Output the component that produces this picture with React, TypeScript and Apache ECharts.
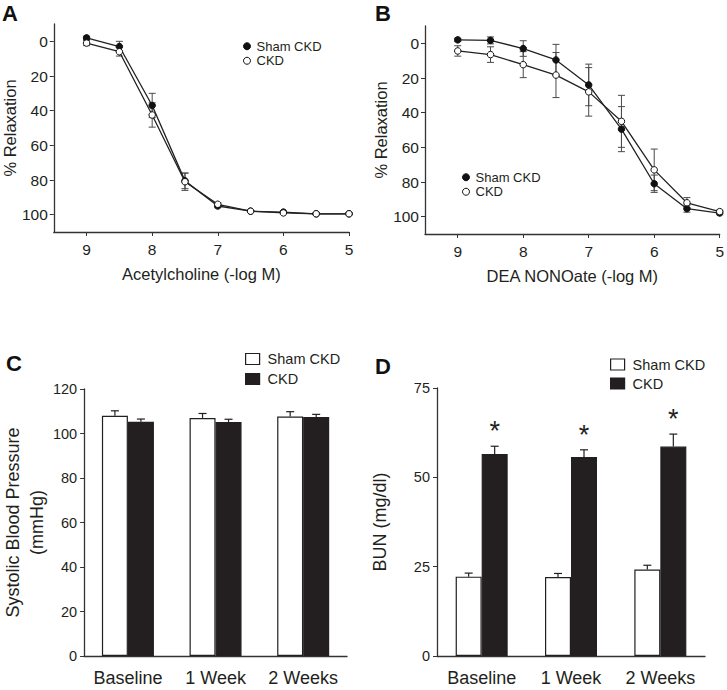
import React, { useEffect, useRef } from "react";
import * as echarts from "echarts";

// ---------- data ----------
const doseLevels = [9, 8.5, 8, 7.5, 7, 6.5, 6, 5.5, 5];
const doseTicks = [9, 8, 7, 6, 5];
const relaxTicks = [0, 20, 40, 60, 80, 100];

const achSham = [-2, 3, 37, 80.5, 95, 98, 98.5, 99.5, 99.5];
const achShamErr = [1, 3, 7, 4.5, 1, 0.5, 0.5, 0.5, 0.5];
const achCKD = [1, 6, 42.5, 81, 94, 98, 99, 99.5, 99.5];
const achCKDErr = [1.5, 2.5, 7, 5, 1, 0.5, 0.5, 0.5, 0.5];

const deaSham = [-2, -1.7, 3, 9.6, 24, 49.5, 81, 95.4, 97.9];
const deaShamErr = [1, 2, 4.5, 9, 12, 13, 5, 2, 1];
const deaCKD = [4.4, 6.5, 12.3, 18.3, 28, 45, 73, 92, 97.1];
const deaCKDErr = [3, 4.5, 7.5, 13, 14, 15, 12, 3, 1];

const weeks = ["Baseline", "1 Week", "2 Weeks"];
const sbpTicks = [0, 20, 40, 60, 80, 100, 120];
const sbpSham = [108, 107, 107.6];
const sbpShamErr = [2.2, 2, 2.2];
const sbpCKD = [105.3, 105.2, 107.4];
const sbpCKDErr = [1.2, 1.2, 1.2];

const bunTicks = [0, 25, 50, 75];
const bunSham = [22.2, 22.1, 24.2];
const bunShamErr = [1, 1, 1.2];
const bunCKD = [56.5, 55.7, 58.6];
const bunCKDErr = [2.2, 2, 3.5];

// ---------- styles ----------
const FONT = "Liberation Sans, Arial, Helvetica, sans-serif";
const INK = "#231f20";
const AXIS = "#333";
const ERR = "#4a4a4a";
const BAR_W = 26;

const lineErrData = (xs: number[], ys: number[], es: number[]) =>
  xs.map((x, i) => [x, ys[i] - es[i], ys[i] + es[i]]);
const barErrData = (ys: number[], es: number[]) =>
  ys.map((y, i) => [i, y, y + es[i]]);

const lineErrRender = (params: any, api: any) => {
  const x = api.value(0);
  const a = api.coord([x, api.value(1)]);
  const b = api.coord([x, api.value(2)]);
  const w = 3.5;
  const style = { stroke: ERR, lineWidth: 1 };
  return {
    type: "group",
    children: [
      { type: "line", shape: { x1: a[0], y1: a[1], x2: b[0], y2: b[1] }, style },
      { type: "line", shape: { x1: a[0] - w, y1: a[1], x2: a[0] + w, y2: a[1] }, style },
      { type: "line", shape: { x1: b[0] - w, y1: b[1], x2: b[0] + w, y2: b[1] }, style },
    ],
  };
};

const barErrRender = (offset: number) => (params: any, api: any) => {
  const c = api.value(0);
  const a = api.coord([c, api.value(1)]);
  const b = api.coord([c, api.value(2)]);
  const x = a[0] + offset;
  const w = 4;
  const style = { stroke: INK, lineWidth: 1.2 };
  return {
    type: "group",
    children: [
      { type: "line", shape: { x1: x, y1: a[1], x2: x, y2: b[1] }, style },
      { type: "line", shape: { x1: x - w, y1: b[1], x2: x + w, y2: b[1] }, style },
    ],
  };
};

const starRender = (offset: number) => (params: any, api: any) => {
  const c = api.value(0);
  const p = api.coord([c, api.value(2)]);
  return {
    type: "text",
    x: p[0] + offset,
    y: p[1] - 15,
    style: {
      text: "*",
      fontSize: 27,
      fontFamily: FONT,
      fill: INK,
      align: "center",
      verticalAlign: "middle",
    },
  };
};

const valueXAxis = (gridIndex: number, name: string) => ({
  type: "value",
  gridIndex,
  min: 5,
  max: 9.5,
  inverse: true,
  name,
  nameLocation: "middle",
  nameGap: 33,
  nameTextStyle: { fontSize: 16.5, fontFamily: FONT, color: INK },
  axisLine: { show: true, onZero: false, lineStyle: { color: AXIS, width: 1.3 } },
  axisTick: { show: true, length: 4, customValues: doseTicks, lineStyle: { color: AXIS } },
  axisLabel: { customValues: doseTicks, margin: 9, fontSize: 15.5, fontFamily: FONT, color: INK },
  splitLine: { show: false },
});

const relaxYAxis = (gridIndex: number) => ({
  type: "value",
  gridIndex,
  min: -10,
  max: 110,
  inverse: true,
  name: "% Relaxation",
  nameLocation: "middle",
  nameGap: 35,
  nameTextStyle: { fontSize: 16.5, fontFamily: FONT, color: INK },
  axisLine: { show: true, onZero: false, lineStyle: { color: AXIS, width: 1.3 } },
  axisTick: { show: true, length: 4, customValues: relaxTicks, lineStyle: { color: AXIS } },
  axisLabel: { customValues: relaxTicks, margin: 6, fontSize: 15.5, fontFamily: FONT, color: INK },
  splitLine: { show: false },
});

const catXAxis = (gridIndex: number) => ({
  type: "category",
  gridIndex,
  data: weeks,
  axisLine: { show: true, lineStyle: { color: AXIS, width: 1.3 } },
  axisTick: { show: false },
  axisLabel: { interval: 0, margin: 13, fontSize: 18, fontFamily: FONT, color: INK },
});

const barYAxis = (gridIndex: number, max: number, ticks: number[], name: string, nameGap: number) => ({
  type: "value",
  gridIndex,
  min: 0,
  max,
  name,
  nameLocation: "middle",
  nameGap,
  nameTextStyle: { fontSize: 18, lineHeight: 24, fontFamily: FONT, color: INK },
  axisLine: { show: true, lineStyle: { color: AXIS, width: 1.3 } },
  axisTick: { show: true, length: 4, customValues: ticks, lineStyle: { color: AXIS } },
  axisLabel: { customValues: ticks, margin: 7, fontSize: 14.5, fontFamily: FONT, color: INK },
  splitLine: { show: false },
});

const lineSeries = (name: string, data: number[], idx: number, open: boolean) => ({
  type: "line",
  name,
  xAxisIndex: idx,
  yAxisIndex: idx,
  data: doseLevels.map((x, i) => [x, data[i]]),
  symbol: "circle",
  symbolSize: 6.5,
  z: 3,
  lineStyle: { color: "#222", width: 1.3 },
  itemStyle: open
    ? { color: "#fff", borderColor: "#111", borderWidth: 1 }
    : { color: "#111", borderColor: "#111", borderWidth: 1 },
});

const errSeries = (data: number[][], idx: number, render: any, z = 1) => ({
  type: "custom",
  xAxisIndex: idx,
  yAxisIndex: idx,
  data,
  encode: { x: 0, y: [1, 2] },
  renderItem: render,
  z,
  silent: true,
});

const barSeries = (name: string, data: number[], idx: number, open: boolean) => ({
  type: "bar",
  name,
  xAxisIndex: idx,
  yAxisIndex: idx,
  data,
  barWidth: BAR_W,
  barGap: "0%",
  itemStyle: open
    ? { color: "#fff", borderColor: INK, borderWidth: 1.2 }
    : { color: INK, borderColor: INK, borderWidth: 1.2 },
});

const dotLegend = (left: number, top: number) => ({
  orient: "vertical",
  left,
  top,
  padding: 0,
  itemGap: 0,
  itemWidth: 7,
  itemHeight: 7,
  selectedMode: false,
  textStyle: { fontSize: 13, lineHeight: 14.5, fontFamily: FONT, color: INK, padding: [0, 0, 0, 1] },
  data: [
    { name: "Sham CKD", icon: "circle", itemStyle: { color: "#111", borderColor: "#111", borderWidth: 1 } },
    { name: "CKD", icon: "circle", itemStyle: { color: "#fff", borderColor: "#111", borderWidth: 1 } },
  ],
});

const boxLegend = (left: number, top: number, lh: number) => ({
  orient: "vertical",
  left,
  top,
  padding: 0,
  itemGap: 0,
  itemWidth: 14,
  itemHeight: 11,
  selectedMode: false,
  textStyle: { fontSize: 14.5, lineHeight: lh, fontFamily: FONT, color: INK, padding: [0, 0, 0, 3] },
  data: [
    { name: "Sham CKD", icon: "rect", itemStyle: { color: "#fff", borderColor: INK, borderWidth: 1.2 } },
    { name: "CKD", icon: "rect", itemStyle: { color: INK, borderColor: INK, borderWidth: 1.2 } },
  ],
});

const panelLabel = (text: string, x: number, y: number) => ({
  type: "text",
  x,
  y,
  style: { text, fontSize: 22, fontWeight: "bold", fontFamily: FONT, fill: "#111" },
});

export default function App() {
  const ref = useRef<HTMLDivElement>(null);
  useEffect(() => {
    if (!ref.current) return;
    const chart = echarts.init(ref.current, null, { renderer: "svg" });
    chart.setOption({
      animation: false,
      backgroundColor: "#fff",
      textStyle: { fontFamily: FONT },
      grid: [
        { left: 52, top: 24, width: 297, height: 208 },
        { left: 425, top: 26, width: 298, height: 208 },
        { left: 77, top: 389, width: 270, height: 267 },
        { left: 437, top: 388, width: 268, height: 268 },
      ],
      xAxis: [
        valueXAxis(0, "Acetylcholine (-log M)"),
        valueXAxis(1, "DEA NONOate (-log M)"),
        catXAxis(2),
        catXAxis(3),
      ],
      yAxis: [
        relaxYAxis(0),
        relaxYAxis(1),
        barYAxis(2, 120, sbpTicks, "Systolic Blood Pressure\n(mmHg)", 30),
        barYAxis(3, 75, bunTicks, "BUN (mg/dl)", 45),
      ],
      legend: [
        dotLegend(243, 39),
        dotLegend(462, 170),
        boxLegend(245, 349, 20),
        boxLegend(610, 355, 19),
      ],
      graphic: [
        panelLabel("A", 2, 2),
        panelLabel("B", 375, 2),
        panelLabel("C", 6, 352),
        panelLabel("D", 375, 355),
      ],
      series: [
        errSeries(lineErrData(doseLevels, achSham, achShamErr), 0, lineErrRender),
        errSeries(lineErrData(doseLevels, achCKD, achCKDErr), 0, lineErrRender),
        lineSeries("Sham CKD", achSham, 0, false),
        lineSeries("CKD", achCKD, 0, true),

        errSeries(lineErrData(doseLevels, deaSham, deaShamErr), 1, lineErrRender),
        errSeries(lineErrData(doseLevels, deaCKD, deaCKDErr), 1, lineErrRender),
        lineSeries("Sham CKD", deaSham, 1, false),
        lineSeries("CKD", deaCKD, 1, true),

        barSeries("Sham CKD", sbpSham, 2, true),
        barSeries("CKD", sbpCKD, 2, false),
        errSeries(barErrData(sbpSham, sbpShamErr), 2, barErrRender(-BAR_W / 2), 5),
        errSeries(barErrData(sbpCKD, sbpCKDErr), 2, barErrRender(BAR_W / 2), 5),

        barSeries("Sham CKD", bunSham, 3, true),
        barSeries("CKD", bunCKD, 3, false),
        errSeries(barErrData(bunSham, bunShamErr), 3, barErrRender(-BAR_W / 2), 5),
        errSeries(barErrData(bunCKD, bunCKDErr), 3, barErrRender(BAR_W / 2), 5),
        errSeries(barErrData(bunCKD, bunCKDErr), 3, starRender(BAR_W / 2), 6),
      ],
    });
    return () => chart.dispose();
  }, []);
  return (
    <div
      ref={ref}
      style={{ position: "fixed", left: 0, top: 0, width: 727, height: 690, background: "#fff" }}
    />
  );
}
